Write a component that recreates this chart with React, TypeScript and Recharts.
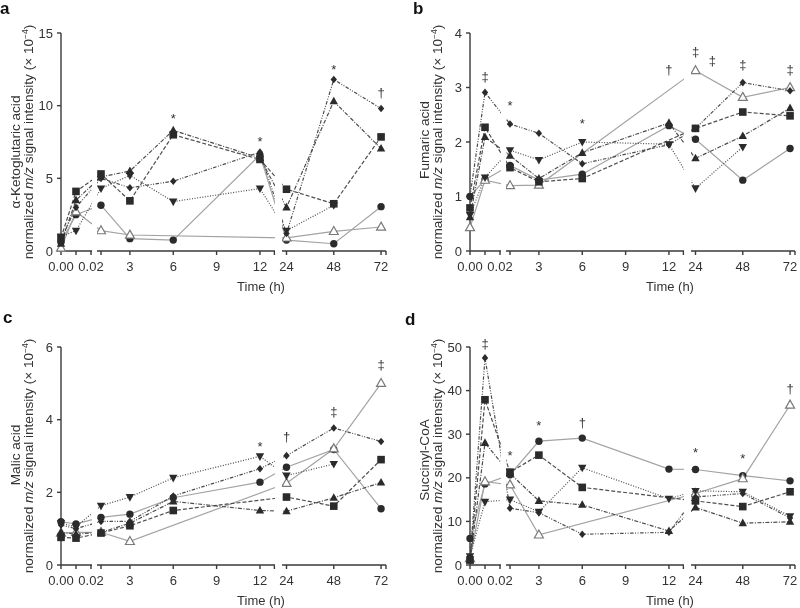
import React from "react";
import { LineChart, Line, XAxis, YAxis, ReferenceDot } from "recharts";

const FONT = "'Liberation Sans', Arial, Helvetica, sans-serif";

// sampling times in hours (0.01 is the early point between 0.00 and 0.02)
const times = [0, 0.01, 1, 3, 6, 12, 24, 48, 72];

const xTickTimes = [0, 0.01, 0.02, 1, 3, 6, 9, 12, 13, 24, 48, 72, 74.5];
const xTickLabels = ["0.00", "", "0.02", "", "3", "6", "9", "12", "", "24", "48", "72", ""];

// order of every value list: circle, open triangle, square, triangle, inverted triangle, diamond
const akgValues = {
  circle: [0.6, 2.5, 3.15, 0.85, 0.75, 6.6, 0.75, 0.5, 3.05],
  openTri: [0.2, 2.7, 1.4, 1.1, null, null, 0.9, 1.35, 1.65],
  square: [0.9, 4.1, 5.3, 3.45, 8.0, 6.3, 4.25, 3.25, 7.85],
  triUp: [0.5, 3.5, 5.1, 5.5, 8.3, 6.4, 3.0, 10.3, 7.05],
  triDown: [1.0, 1.4, 4.3, 5.2, 3.4, 4.3, 1.4, 3.15, null],
  diamond: [0.8, 3.0, 5.0, 4.35, 4.8, 6.8, 1.2, 11.8, 9.8],
};
const akgMarks = [
  { t: 6, v: 9.3, s: "*" },
  { t: 12, v: 7.75, s: "*" },
  { t: 48, v: 12.7, s: "*" },
  { t: 72, v: 10.9, s: "†" },
];

const fumValues = {
  circle: [1.0, 1.31, 1.57, 1.3, 1.41, 2.3, 2.05, 1.3, 1.88],
  openTri: [0.43, 1.3, 1.2, 1.21, null, null, 3.31, 2.82, 3.0],
  square: [0.79, 2.27, 1.53, 1.27, 1.33, null, 2.25, 2.55, 2.48],
  triUp: [0.62, 2.09, 1.75, 1.33, 1.8, 2.35, 1.7, 2.11, 2.62],
  triDown: [0.66, 1.35, 1.85, 1.67, 2.0, 1.96, 1.15, 1.91, null],
  diamond: [1.0, 2.91, 2.33, 2.16, 1.6, 1.95, 2.25, 3.09, 2.94],
};
const fumMarks = [
  { t: 0.01, v: 3.2, s: "‡" },
  { t: 1, v: 2.73, s: "*" },
  { t: 6, v: 2.39, s: "*" },
  { t: 12, v: 3.33, s: "†" },
  { t: 24, v: 3.66, s: "‡" },
  { t: 32.5, v: 3.48, s: "‡" },
  { t: 48, v: 3.42, s: "‡" },
  { t: 72, v: 3.33, s: "‡" },
];

const malValues = {
  circle: [1.19, 1.13, 1.31, 1.4, 1.85, 2.28, 2.69, 3.18, 1.55],
  openTri: [0.88, 0.9, 0.9, 0.65, null, null, 2.25, 3.2, 5.0],
  square: [0.76, 0.74, 0.88, 1.08, 1.5, null, 1.87, 1.62, 2.9],
  triUp: [0.9, 0.85, 0.9, 1.15, 1.75, 1.5, 1.48, 1.85, 2.27],
  triDown: [1.15, 1.05, 1.63, 1.87, 2.4, 2.99, 2.46, 2.78, null],
  diamond: [1.1, 1.0, 1.2, 1.2, 1.9, 2.65, 3.01, 3.77, 3.4],
};
const malMarks = [
  { t: 12, v: 3.34, s: "*" },
  { t: 24, v: 3.52, s: "†" },
  { t: 48, v: 4.21, s: "‡" },
  { t: 72, v: 5.5, s: "‡" },
];

const sucValues = {
  circle: [6.1, 18.6, 20.7, 28.4, 29.1, 22, 21.9, 20.5, 19.3],
  openTri: [1.5, 19.1, 18.4, 6.9, null, null, 16.4, 19.8, 36.7],
  square: [1.2, 37.9, 21.3, 25.2, 17.8, null, 14.7, 13.4, 16.8],
  triUp: [1.0, 28, 21, 14.7, 13.8, 7.8, 13.2, 9.6, 9.9],
  triDown: [2.0, 14.5, 15, 12.2, 22.3, 15.2, 17, 16.8, 11.2],
  diamond: [1.3, 47.5, 13, 12.0, 7.05, 7.5, 15.6, 16.4, 10.8],
};
const sucMarks = [
  { t: 0.01, v: 50.8, s: "‡" },
  { t: 1, v: 25.8, s: "*" },
  { t: 3, v: 32.7, s: "*" },
  { t: 6, v: 32.6, s: "†" },
  { t: 24, v: 26.5, s: "*" },
  { t: 48, v: 25.1, s: "*" },
  { t: 72, v: 40.4, s: "†" },
];

// broken time axis, three pieces: 0-0.02 h, 1-13 h, 24-74.5 h (px from the y axis)
function xpos(t: number) {
  if (t <= 0.02) return t * 1500;
  if (t <= 13) return 40 + (t - 1) * 14.45;
  return 225.5 + (t - 24) * 1.97;
}

const SERIES = [
  { key: "circle", stroke: "#a3a3a3", dash: undefined as string | undefined },
  { key: "openTri", stroke: "#a3a3a3", dash: undefined },
  { key: "square", stroke: "#4d4d4d", dash: "4 2" },
  { key: "triUp", stroke: "#4d4d4d", dash: "4 1.5 1 1.5" },
  { key: "triDown", stroke: "#4d4d4d", dash: "1 1.6" },
  { key: "diamond", stroke: "#4d4d4d", dash: "3.5 1.5 1 1.5 1 1.5" },
];

const PLOT_L = 61;
const PLOT_T = 33;
const PLOT_B = 251;
const GAPS = [
  [30.8, 36.2],
  [214.2, 221.3],
];

function drawMarker(kind: string) {
  return (p: any) => {
    const { cx, cy, index, value } = p;
    const k = `${kind}-${index}`;
    if (value == null || cx == null || cy == null || Number.isNaN(cy)) return <g key={k} />;
    const ink = "#2b2b2b";
    if (kind === "circle") return <circle key={k} cx={cx} cy={cy} r={3.7} fill={ink} />;
    if (kind === "square")
      return <rect key={k} x={cx - 3.8} y={cy - 3.8} width={7.6} height={7.6} fill={ink} />;
    if (kind === "triUp")
      return <polygon key={k} points={`${cx},${cy - 4.6} ${cx + 4.2},${cy + 3} ${cx - 4.2},${cy + 3}`} fill={ink} />;
    if (kind === "triDown")
      return <polygon key={k} points={`${cx - 4.2},${cy - 3} ${cx + 4.2},${cy - 3} ${cx},${cy + 4.6}`} fill={ink} />;
    if (kind === "diamond")
      return <polygon key={k} points={`${cx},${cy - 3.8} ${cx + 3.2},${cy} ${cx},${cy + 3.8} ${cx - 3.2},${cy}`} fill={ink} />;
    return (
      <polygon
        key={k}
        points={`${cx},${cy - 4.9} ${cx + 4.5},${cy + 3.1} ${cx - 4.5},${cy + 3.1}`}
        fill="#fff"
        stroke="#7a7a7a"
        strokeWidth={1.2}
      />
    );
  };
}

function annotation(sym: string) {
  return (p: any) => {
    const shift = sym === "*" ? 7.5 : 4;
    return (
      <text x={p.cx} y={p.cy + shift} textAnchor="middle" fontSize={13} fill="#333" fontFamily={FONT}>
        {sym}
      </text>
    );
  };
}

function xLabel(u: number) {
  const i = xTickTimes.findIndex((t) => Math.abs(xpos(t) - u) < 0.01);
  return i >= 0 ? xTickLabels[i] : "";
}

type PanelProps = {
  left: number;
  top: number;
  letter: string;
  letterX: number;
  letterY: number;
  name: string;
  nameY: number;
  yMax: number;
  yTicks: number[];
  values: Record<string, (number | null)[]>;
  marks: { t: number; v: number; s: string }[];
};

function Panel({ left, top, letter, letterX, letterY, name, nameY, yMax, yTicks, values, marks }: PanelProps) {
  const rows = times.map((t, i) => {
    const row: Record<string, number | null> = { u: xpos(t) };
    for (const s of SERIES) row[s.key] = values[s.key][i];
    return row;
  });
  const axis = { stroke: "#3a3a3a", strokeWidth: 1.4 };
  const tick = { fontSize: 13, fill: "#333", fontFamily: FONT };
  return (
    <div style={{ position: "absolute", left, top, width: 400, height: 304 }}>
      <LineChart width={400} height={300} data={rows} margin={{ top: PLOT_T, right: 14, bottom: 19, left: 0 }}>
        <XAxis
          dataKey="u"
          type="number"
          domain={[0, 325]}
          ticks={xTickTimes.map(xpos)}
          interval={0}
          tickFormatter={xLabel}
          height={30}
          axisLine={axis}
          tickLine={axis}
          tickSize={4}
          tickMargin={7}
          tick={tick}
        />
        <YAxis
          type="number"
          domain={[0, yMax]}
          ticks={yTicks}
          interval={0}
          width={PLOT_L}
          axisLine={axis}
          tickLine={axis}
          tickSize={4}
          tickMargin={4}
          tick={tick}
        />
        {SERIES.map((s) => (
          <Line
            key={s.key}
            dataKey={s.key}
            type="linear"
            stroke={s.stroke}
            strokeWidth={1.2}
            strokeDasharray={s.dash}
            connectNulls
            dot={drawMarker(s.key)}
            activeDot={false}
            isAnimationActive={false}
          />
        ))}
        {marks.map((m, i) => (
          <ReferenceDot key={i} x={xpos(m.t)} y={m.v} r={0} ifOverflow="visible" shape={annotation(m.s)} />
        ))}
      </LineChart>
      {GAPS.map(([a, b], i) => (
        <div
          key={i}
          style={{
            position: "absolute",
            left: PLOT_L + a,
            top: PLOT_T - 2,
            width: b - a,
            height: PLOT_B - PLOT_T + 4,
            background: "#fff",
          }}
        />
      ))}
      <div
        style={{
          position: "absolute",
          left: letterX,
          top: letterY,
          fontSize: 17,
          lineHeight: "17px",
          fontWeight: "bold",
          color: "#111",
        }}
      >
        {letter}
      </div>
      <div
        style={{
          position: "absolute",
          left: 15,
          top: nameY,
          transform: "translate(-50%, -50%) rotate(-90deg)",
          whiteSpace: "nowrap",
          fontSize: 13.6,
          color: "#333",
        }}
      >
        {name}
      </div>
      <div
        style={{
          position: "absolute",
          left: 28,
          top: 142,
          transform: "translate(-50%, -50%) rotate(-90deg)",
          whiteSpace: "nowrap",
          fontSize: 13.6,
          color: "#333",
        }}
      >
        normalized <i>m/z</i> signal intensity (× 10
        <sup style={{ fontSize: 8.5, verticalAlign: "5px" }}>−4</sup>)
      </div>
      <div
        style={{
          position: "absolute",
          left: 261,
          top: 286,
          transform: "translate(-50%, -50%)",
          whiteSpace: "nowrap",
          fontSize: 13,
          color: "#333",
        }}
      >
        Time (h)
      </div>
    </div>
  );
}

export default function App() {
  return (
    <div
      style={{
        position: "absolute",
        left: 0,
        top: 0,
        width: 800,
        height: 608,
        background: "#fff",
        fontFamily: FONT,
        overflow: "hidden",
        filter: "grayscale(1)",
      }}
    >
      <Panel
        left={0}
        top={0}
        letter="a"
        letterX={0}
        letterY={0}
        name="α-Ketoglutaric acid"
        nameY={152}
        yMax={15}
        yTicks={[0, 5, 10, 15]}
        values={akgValues}
        marks={akgMarks}
      />
      <Panel
        left={409}
        top={0}
        letter="b"
        letterX={4}
        letterY={0}
        name="Fumaric acid"
        nameY={140}
        yMax={4}
        yTicks={[0, 1, 2, 3, 4]}
        values={fumValues}
        marks={fumMarks}
      />
      <Panel
        left={0}
        top={314}
        letter="c"
        letterX={3}
        letterY={-5}
        name="Malic acid"
        nameY={141}
        yMax={6}
        yTicks={[0, 2, 4, 6]}
        values={malValues}
        marks={malMarks}
      />
      <Panel
        left={409}
        top={314}
        letter="d"
        letterX={-4}
        letterY={-3}
        name="Succinyl-CoA"
        nameY={146}
        yMax={50}
        yTicks={[0, 10, 20, 30, 40, 50]}
        values={sucValues}
        marks={sucMarks}
      />
    </div>
  );
}
